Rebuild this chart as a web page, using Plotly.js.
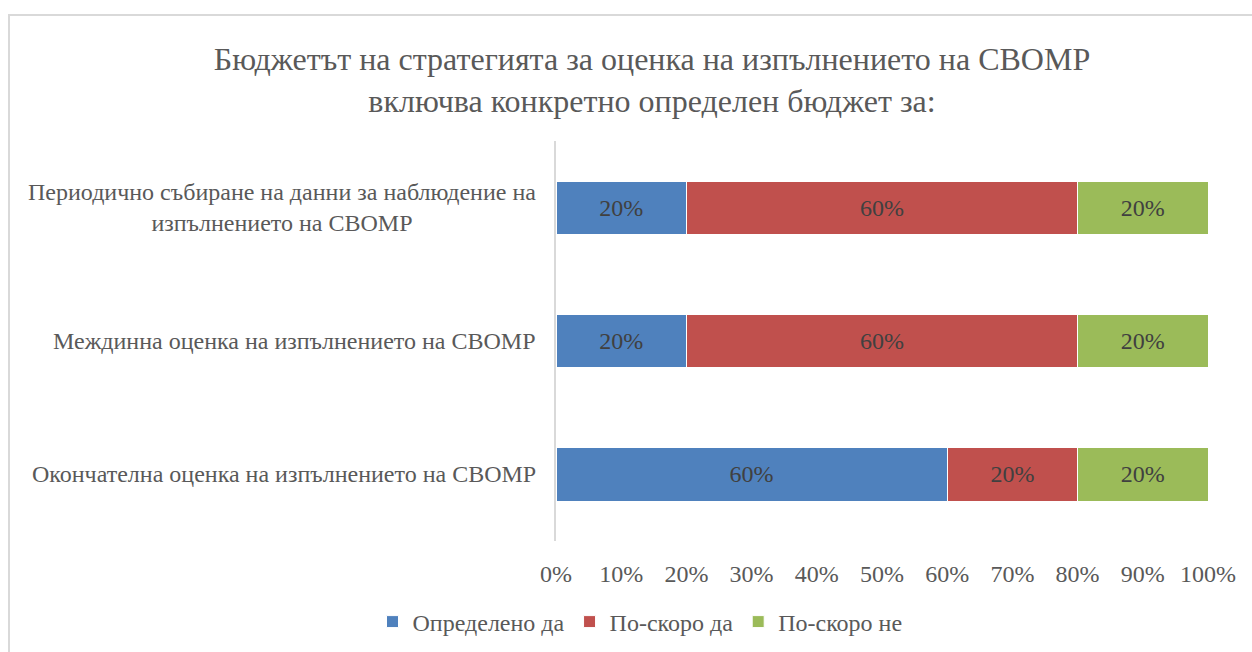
<!DOCTYPE html>
<html>
<head>
<meta charset="utf-8">
<script src="https://cdn.plot.ly/plotly-3.0.1.min.js"></script>
<style>
html,body{margin:0;padding:0;background:#fff;}
#frame{position:absolute;left:8px;top:14px;width:1300px;height:700px;border:2px solid #d9d9d9;box-sizing:border-box;}
#chart{position:absolute;left:0;top:0;width:1252px;height:652px;}
</style>
</head>
<body>
<div id="frame"></div>
<div id="chart"></div>
<script>
const categories = [
  "Периодично събиране на данни за наблюдение на<br>изпълнението на СВОМР",
  "Междинна оценка на изпълнението на СВОМР",
  "Окончателна оценка на изпълнението на СВОМР"
];
const seriesNames = ["Определено да", "По-скоро да", "По-скоро не"];
const definitelyYes = [0.2, 0.2, 0.6];
const ratherYes = [0.6, 0.6, 0.2];
const ratherNo = [0.2, 0.2, 0.2];
const colors = ["#4F81BD", "#C0504D", "#9BBB59"];
const tickVals = [0, 0.1, 0.2, 0.3, 0.4, 0.5, 0.6, 0.7, 0.8, 0.9, 1.0];
const tickLabels = ["0%", "10%", "20%", "30%", "40%", "50%", "60%", "70%", "80%", "90%", "100%"];

const font = "Liberation Serif";
const values = [definitelyYes, ratherYes, ratherNo];
const traces = values.map((v, i) => ({
  type: "bar",
  orientation: "h",
  name: seriesNames[i],
  y: categories,
  x: v,
  marker: {color: colors[i], line: {color: "#ffffff", width: 1}},
  width: 0.4,
  text: v.map(d => Math.round(d * 100) + "%"),
  textposition: "inside",
  insidetextanchor: "middle",
  textfont: {family: font, size: 24, color: "#404040"},
  hoverinfo: "none"
}));

const annotations = categories.map(c => ({
  xref: "paper", yref: "y", x: 0, y: c, xanchor: "right", yanchor: "middle",
  xshift: -18, text: c, showarrow: false, align: "center",
  font: {family: font, size: 24, color: "#595959"}
}));

const layout = {
  width: 1252, height: 652,
  margin: {l: 556, r: 44, t: 141, b: 111},
  paper_bgcolor: "rgba(0,0,0,0)", plot_bgcolor: "rgba(0,0,0,0)",
  barmode: "stack",
  title: {
    text: "Бюджетът на стратегията за оценка на изпълнението на СВОМР<br>включва конкретно определен бюджет за:",
    font: {family: font, size: 32, color: "#595959"},
    x: 652 / 1252, xref: "container", xanchor: "center",
    y: 1 - 70 / 652, yref: "container", yanchor: "middle"
  },
  xaxis: {
    range: [0, 1], tickvals: tickVals, ticktext: tickLabels,
    showgrid: false, zeroline: false, showline: false, ticks: "",
    ticklabelstandoff: 16,
    tickfont: {family: font, size: 24, color: "#595959"},
    fixedrange: true
  },
  yaxis: {
    categoryorder: "array", categoryarray: categories.slice().reverse(),
    range: [-0.5, 2.5], showticklabels: false,
    showline: true, linecolor: "#d9d9d9", linewidth: 2,
    showgrid: false, zeroline: false, ticks: "", fixedrange: true
  },
  legend: {
    orientation: "h", xref: "container", yref: "container",
    x: 640 / 1252, xanchor: "center", y: 1 - 622 / 652, yanchor: "middle",
    font: {family: font, size: 24, color: "#595959"},
    traceorder: "normal", itemwidth: 30
  },
  annotations: annotations,
  showlegend: true
};
Plotly.newPlot("chart", traces, layout, {displayModeBar: false, staticPlot: true});
</script>
</body>
</html>
